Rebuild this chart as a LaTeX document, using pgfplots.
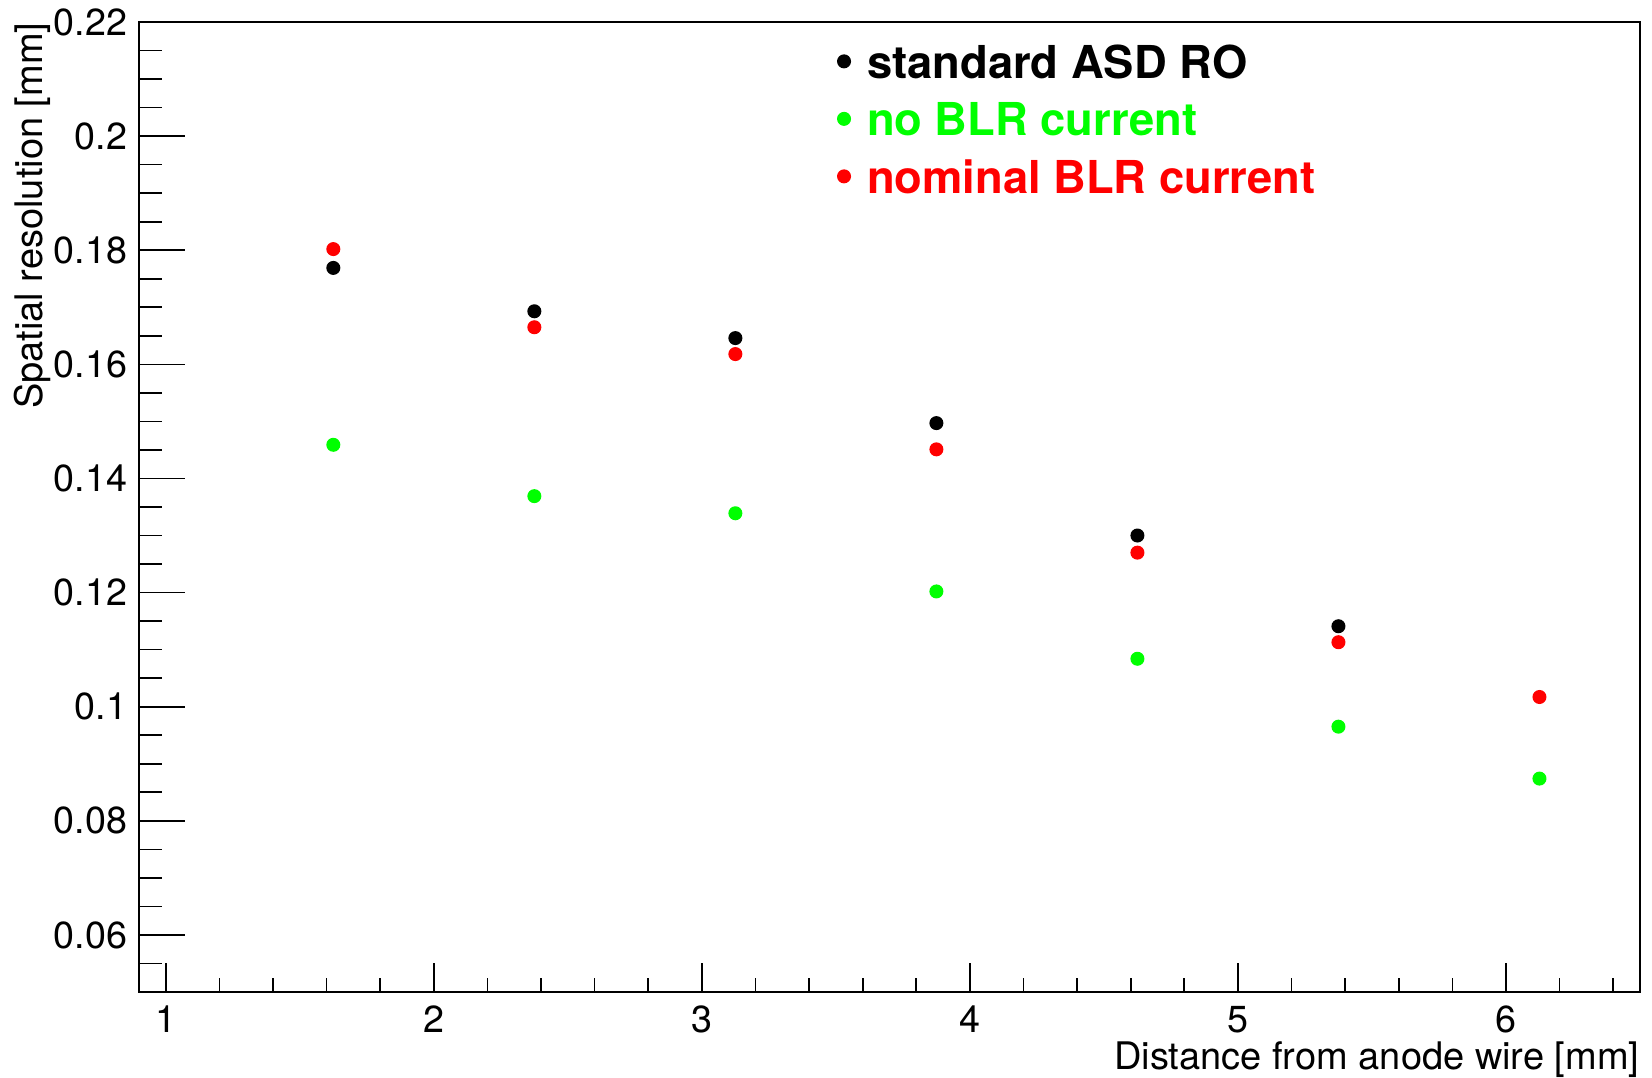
\documentclass[border=0pt]{standalone}
\usepackage{pgfplots}
\pgfplotsset{compat=1.18}
\usepackage{fontspec}
\setmainfont{TeX Gyre Heros}
\definecolor{rootgreen}{RGB}{0,255,0}
\definecolor{rootred}{RGB}{255,0,0}
\begin{document}
\begin{tikzpicture}
\useasboundingbox (-41.7pt,-25.8pt) rectangle (453.9pt,297.6pt);
% axis 1: data, x ticks, labels, legend
\begin{axis}[
  at={(0,0)}, anchor=south west,
  scale only axis, width=450.3pt, height=291pt,
  xmin=0.9, xmax=6.5, ymin=0.05, ymax=0.22,
  axis line style={line width=0.5pt},
  tick align=inside, xtick pos=bottom, ytick pos=left,
  xtick={1,2,3,4,5,6},
  minor xtick={1.2,1.4,1.6,1.8,2.2,2.4,2.6,2.8,3.2,3.4,3.6,3.8,4.2,4.4,4.6,4.8,5.2,5.4,5.6,5.8,6.2,6.4},
  ytick=\empty,
  major tick length=8.6pt, minor tick length=4.3pt,
  every tick/.style={black, line width=0.5pt},
  /pgf/number format/assume math mode=true,
  tick label style={font=\fontsize{11.3}{13}\selectfont},
  xticklabel style={yshift=-0.7pt},
  xlabel={Distance from anode wire [mm]},
  every axis x label/.style={at={([yshift=-23.4pt]rel axis cs:1,0)}, anchor=base east, inner sep=0pt, font=\fontsize{11.4}{13}\selectfont},
  ylabel={Spatial resolution [mm]},
  every axis y label/.style={at={([xshift=-28.8pt]rel axis cs:0,1)}, rotate=90, anchor=base east, inner sep=0pt, font=\fontsize{11.4}{13}\selectfont},
  legend cell align=left,
  legend image code/.code={\draw[#1] plot coordinates {(0pt,0pt)};},
  legend style={at={(rel axis cs:0.4655,0.9766)}, anchor=north west, draw=none, fill=none,
    inner sep=0pt, outer sep=0pt, row sep=7.25pt, column sep=5pt,
    nodes={inner sep=0pt, text height=10pt, text depth=0pt},
    font=\fontsize{13.6}{16}\selectfont\bfseries},
]
\addplot[only marks, mark=*, mark size=1.9pt, mark options={draw=black, fill=black}] coordinates {
  (1.625,0.1769) (2.375,0.1693) (3.125,0.1646) (3.875,0.1497) (4.625,0.1300) (5.375,0.1141)
};
\addlegendentry{\textcolor{black}{standard ASD RO}}
\addplot[only marks, mark=*, mark size=1.9pt, mark options={draw=rootgreen, fill=rootgreen}] coordinates {
  (1.625,0.1459) (2.375,0.1369) (3.125,0.1339) (3.875,0.1202) (4.625,0.1084) (5.375,0.0965) (6.125,0.0874)
};
\addlegendentry{\textcolor{rootgreen}{no BLR current}}
\addplot[only marks, mark=*, mark size=1.9pt, mark options={draw=rootred, fill=rootred}] coordinates {
  (1.625,0.1802) (2.375,0.1665) (3.125,0.1618) (3.875,0.1451) (4.625,0.1270) (5.375,0.1113) (6.125,0.1017)
};
\addlegendentry{\textcolor{rootred}{nominal BLR current}}
\end{axis}
% axis 2: y ticks only
\begin{axis}[
  at={(0,0)}, anchor=south west,
  scale only axis, width=450.3pt, height=291pt,
  xmin=0.9, xmax=6.5, ymin=0.05, ymax=0.22,
  axis line style={line width=0.5pt},
  tick align=inside, xtick pos=bottom, ytick pos=left,
  xtick=\empty,
  ytick={0.06,0.08,0.1,0.12,0.14,0.16,0.18,0.2,0.22},
  minor ytick={0.055,0.065,0.07,0.075,0.085,0.09,0.095,0.105,0.11,0.115,0.125,0.13,0.135,0.145,0.15,0.155,0.165,0.17,0.175,0.185,0.19,0.195,0.205,0.21,0.215},
  scaled y ticks=false,
  yticklabel style={/pgf/number format/fixed},
  major tick length=13.7pt, minor tick length=6.85pt,
  every tick/.style={black, line width=0.5pt},
  /pgf/number format/assume math mode=true,
  tick label style={font=\fontsize{11.3}{13}\selectfont},
]
\end{axis}
\end{tikzpicture}
\end{document}
